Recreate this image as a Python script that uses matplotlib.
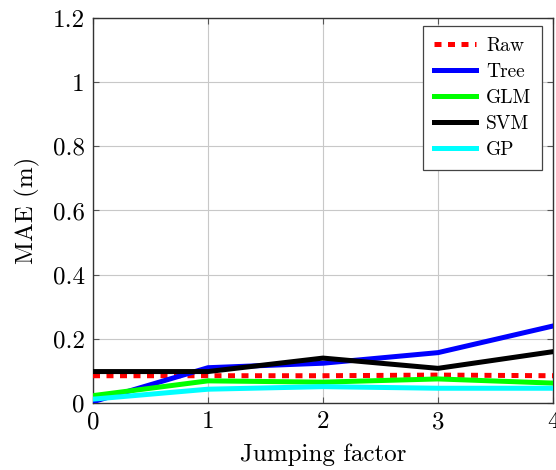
import matplotlib
matplotlib.use("Agg")
import matplotlib.pyplot as plt

plt.rcParams['font.family'] = ['cmr10', 'DejaVu Serif']
plt.rcParams['axes.formatter.use_mathtext'] = True
plt.rcParams['mathtext.fontset'] = 'cm'

x = [0, 1, 2, 3, 4]
raw = [0.085, 0.085, 0.085, 0.087, 0.085]
tree = [0.004, 0.11, 0.124, 0.157, 0.24]
glm = [0.023, 0.069, 0.065, 0.075, 0.062]
svm = [0.098, 0.098, 0.14, 0.108, 0.16]
gp = [0.012, 0.043, 0.051, 0.046, 0.046]

xticks = [0, 1, 2, 3, 4]
yticks = [0, 0.2, 0.4, 0.6, 0.8, 1.0, 1.2]
yticklabels = ['0', '0.2', '0.4', '0.6', '0.8', '1', '1.2']

fig = plt.figure(figsize=(5.56, 4.70), dpi=100)
ax = fig.add_axes([93/556, 1 - 403/470, (553-93)/556, (403-18)/470])

lw = 3.6
ax.plot(x, raw, color='#ff0000', lw=lw, dashes=(1.4, 1.3), label='Raw', zorder=3)
ax.plot(x, tree, color='#0000ff', lw=lw, label='Tree', zorder=3)
ax.plot(x, glm, color='#00ff00', lw=lw, label='GLM', zorder=3)
ax.plot(x, svm, color='#000000', lw=lw, label='SVM', zorder=3)
ax.plot(x, gp, color='#00ffff', lw=lw, label='GP', zorder=3)

ax.set_xlim(0, 4)
ax.set_ylim(0, 1.2)
ax.set_xticks(xticks)
ax.set_xticklabels([str(t) for t in xticks])
ax.set_yticks(yticks)
ax.set_yticklabels(yticklabels)
ax.grid(True, color='#c8c8c8', lw=0.8)
ax.set_axisbelow(True)
ax.tick_params(direction='in', length=4, width=0.8, labelsize=18, pad=6,
               top=True, right=True, color='#555555')
for s in ax.spines.values():
    s.set_linewidth(1.0)
    s.set_color('#333333')

ax.set_xlabel('Jumping factor', fontsize=18, labelpad=7)
ax.set_ylabel('MAE (m)', fontsize=18, labelpad=9)

leg = ax.legend(loc='upper right', fontsize=14, handlelength=2.2, fancybox=False,
                edgecolor='#444444', framealpha=1, borderpad=0.55, labelspacing=0.42,
                handletextpad=0.5, borderaxespad=0,
                bbox_to_anchor=(0.976, 0.979))
leg.get_frame().set_linewidth(0.9)

fig.savefig('out.png', dpi=100)
